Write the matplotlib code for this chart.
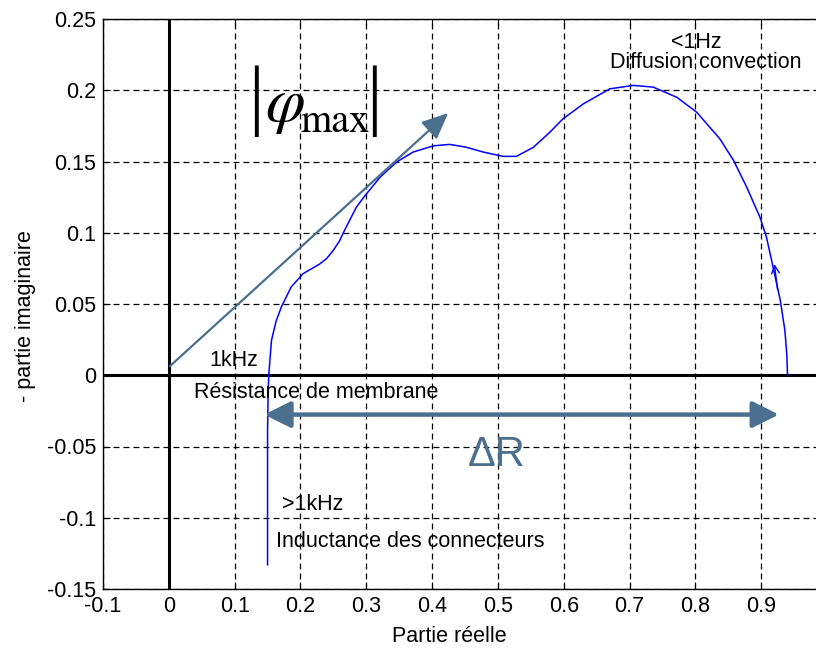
import matplotlib

matplotlib.use("Agg")
import matplotlib.pyplot as plt

# Nyquist-like impedance curve (Re, -Im)
re_part = [0.150, 0.150, 0.150, 0.151, 0.152, 0.156, 0.163, 0.171, 0.186, 0.204,
           0.229, 0.240, 0.250, 0.259, 0.267, 0.285, 0.298, 0.321, 0.346, 0.371,
           0.402, 0.427, 0.452, 0.478, 0.508, 0.528, 0.554, 0.579, 0.599, 0.630,
           0.670, 0.706, 0.736, 0.772, 0.802, 0.837, 0.858, 0.878, 0.898, 0.908,
           0.918, 0.929, 0.936, 0.939, 0.940]
im_part = [-0.133, -0.090, -0.040, -0.010, 0.001, 0.0245, 0.038, 0.048, 0.062, 0.0713,
           0.078, 0.082, 0.0877, 0.094, 0.1017, 0.118, 0.126, 0.139, 0.1496, 0.1566,
           0.161, 0.162, 0.160, 0.1566, 0.1536, 0.1536, 0.160, 0.1706, 0.180, 0.1905,
           0.201, 0.2034, 0.2022, 0.195, 0.1846, 0.166, 0.1508, 0.132, 0.111, 0.097,
           0.076, 0.0526, 0.0316, 0.014, 0.0]

x_ticks = [-0.1, 0, 0.1, 0.2, 0.3, 0.4, 0.5, 0.6, 0.7, 0.8, 0.9]
y_ticks = [-0.15, -0.1, -0.05, 0, 0.05, 0.1, 0.15, 0.2, 0.25]

# annotation anchors (data units)
phi_start = (0.0015, 0.0063)
phi_end = (0.4245, 0.184)
delta_r = (0.145, 0.927, -0.0276)
dir_arrow = ((0.925, 0.060), (0.920, 0.078))

labels = [
    ("<1Hz", 0.802, 0.2335),
    ("Diffusion convection", 0.816, 0.2195),
    ("1kHz", 0.099, 0.0105),
    ("Résistance de membrane", 0.224, -0.012),
    (">1kHz", 0.219, -0.091),
    ("Inductance des connecteurs", 0.367, -0.117),
]

steel = "#4A6F8F"

plt.rcParams["font.family"] = ["Liberation Sans", "DejaVu Sans"]
plt.rcParams["font.size"] = 15.5
plt.rcParams["mathtext.fontset"] = "stix"
plt.rcParams["lines.scale_dashes"] = False

fig = plt.figure(figsize=(8.16, 6.49), dpi=100)
ax = fig.add_axes([103 / 816, 60 / 649, 724 / 816, 570 / 649])

ax.set_xlim(-0.1, 1.0)
ax.set_ylim(-0.15, 0.25)
ax.set_xticks(x_ticks)
ax.set_yticks(y_ticks)
ax.set_xticklabels([f"{v:g}" for v in x_ticks])
ax.set_yticklabels([f"{v:g}" for v in y_ticks])
ax.tick_params(direction="in", length=5, width=0.8, top=True, right=True, pad=5)
ax.grid(True, color="black", lw=0.9, linestyle=(0, (4.3, 2.9)))
for sp in ax.spines.values():
    sp.set_linewidth(1.0)

ax.axhline(0, color="black", lw=2.2, zorder=3)
ax.axvline(0, color="black", lw=2.2, zorder=3)

ax.plot(re_part, im_part, color="#0000FF", lw=1.1, zorder=4)
ax.annotate("", xy=dir_arrow[1], xytext=dir_arrow[0],
            arrowprops=dict(arrowstyle="->", color="#0000FF", lw=1.0,
                            mutation_scale=14, shrinkA=0, shrinkB=0), zorder=4)

# |phi_max| tangent arrow
ax.annotate("", xy=phi_end, xytext=phi_start,
            arrowprops=dict(arrowstyle="-|>,head_length=0.9,head_width=0.4",
                            color=steel, lw=1.6, mutation_scale=18,
                            shrinkA=0, shrinkB=0), zorder=5)
# |phi_max| label, built from pieces so the bars are tall like the original
ax.text(0.132, 0.192, "|", fontsize=56, family="Liberation Serif",
        ha="center", va="center", zorder=6)
ax.text(0.3116, 0.192, "|", fontsize=56, family="Liberation Serif",
        ha="center", va="center", zorder=6)
ax.text(0.177, 0.189, r"$\varphi$", fontsize=46, ha="center", va="center", zorder=6)
ax.text(0.252, 0.1704, "max", fontsize=29, family="STIXGeneral",
        ha="center", va="baseline", zorder=6)

# Delta R double arrow
ax.annotate("", xy=(delta_r[1], delta_r[2]), xytext=(delta_r[0], delta_r[2]),
            arrowprops=dict(arrowstyle="<|-|>,head_length=0.8,head_width=0.4",
                            color=steel, lw=3.2, mutation_scale=20,
                            shrinkA=0, shrinkB=0), zorder=5)
ax.text(0.498, -0.056, "ΔR", fontsize=30, color=steel, ha="center", va="center")

for txt, x, y in labels:
    ax.text(x, y, txt, ha="center", va="center", zorder=6)

ax.set_xlabel("Partie réelle")
ax.set_ylabel("- partie imaginaire")
ax.xaxis.set_label_coords(0.479, -0.065)
ax.yaxis.set_label_coords(-0.0925, 0.479)

fig.savefig("out.png", dpi=100)
